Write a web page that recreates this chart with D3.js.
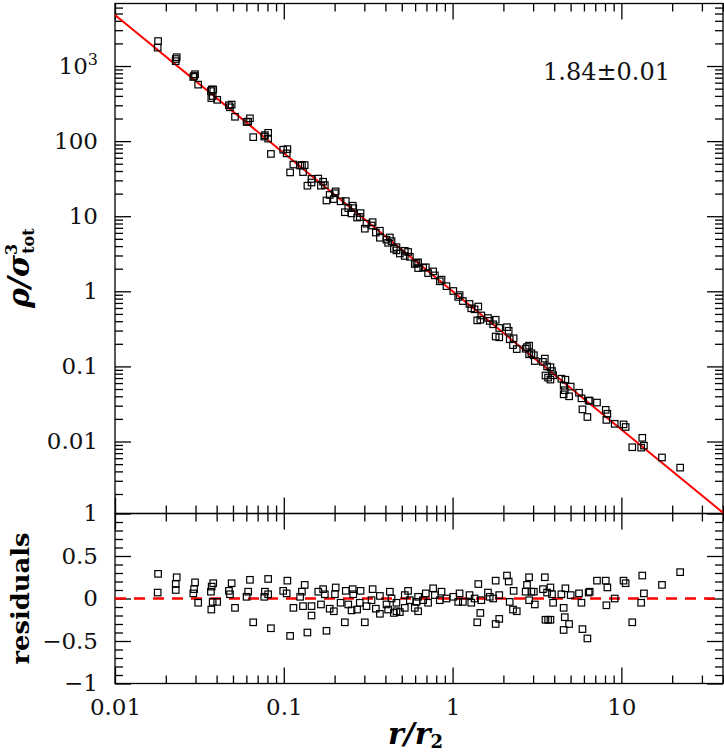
<!DOCTYPE html>
<html>
<head>
<meta charset="utf-8">
<script src="https://cdn.jsdelivr.net/npm/d3@7"></script>
<style>
  body { margin: 0; background: #fff; }
</style>
</head>
<body>
<script>
// radius in units of r_2
var rVals = [
  0.0180, 0.0179, 0.0232, 0.0229, 0.0229, 0.0298, 0.0294, 0.0291, 0.0311, 0.0382,
  0.0374, 0.0370, 0.0379, 0.0403, 0.0372, 0.0491, 0.0473, 0.0480, 0.0514, 0.0630,
  0.0615, 0.0602, 0.0659, 0.0808, 0.0773, 0.0808, 0.0766, 0.0839, 0.105, 0.0992,
  0.104, 0.114, 0.109, 0.133, 0.128, 0.125, 0.130, 0.146, 0.146, 0.138,
  0.160, 0.171, 0.175, 0.166, 0.187, 0.179, 0.203, 0.201, 0.217, 0.198,
  0.230, 0.233, 0.256, 0.258, 0.241, 0.252, 0.285, 0.282, 0.272, 0.302,
  0.336, 0.331, 0.309, 0.371, 0.351, 0.371, 0.406, 0.425, 0.415, 0.449,
  0.435, 0.465, 0.465, 0.487, 0.521, 0.545, 0.521, 0.558, 0.597, 0.625,
  0.625, 0.611, 0.669, 0.694, 0.767, 0.716, 0.785, 0.860, 0.840, 0.920,
  1.01, 1.10, 1.08, 1.15, 1.26, 1.29, 1.42, 1.35, 1.48, 1.46,
  1.40, 1.62, 1.66, 1.74, 1.89, 1.80, 1.89, 1.80, 2.10, 2.15,
  2.18, 2.30, 2.28, 2.40, 2.84, 2.76, 2.71, 2.93, 3.03, 2.84,
  3.07, 3.52, 3.43, 3.80, 3.63, 3.88, 3.94, 3.55, 3.68, 3.80,
  4.66, 4.41, 5.01, 4.55, 4.62, 4.90, 4.55, 5.61, 5.80, 6.40,
  6.49, 5.88, 6.29, 7.17, 8.08, 8.26, 9.13, 8.15, 10.3, 10.6,
  11.6, 13.3, 13.6, 13.1, 17.4, 22.3
];

// rho / sigma_tot^3
var rhoVals = [
  2150, 1760, 1310, 1240, 1160, 777, 737, 715, 565, 487,
  487, 464, 398, 355, 374, 307, 300, 282, 211, 201,
  182, 180, 113, 129, 120, 108, 115, 67.5, 78.2, 76.9,
  68.7, 48.8, 38.3, 47.9, 48.1, 47.3, 38.7, 31.4, 28.1, 25.5,
  31.7, 28.8, 26.0, 25.5, 19.2, 16.2, 21.4, 20.2, 15.8, 16.9,
  11.3, 15.9, 13.8, 12.8, 12.8, 10.9, 11.0, 9.79, 9.61, 6.82,
  8.33, 7.53, 7.96, 6.41, 6.06, 5.17, 4.87, 5.21, 4.42, 3.68,
  4.65, 3.87, 3.51, 3.19, 2.96, 3.34, 3.46, 2.88, 2.31, 2.04,
  2.43, 2.39, 2.06, 2.09, 1.84, 1.75, 1.63, 1.43, 1.36, 1.17,
  1.01, 0.890, 0.841, 0.742, 0.678, 0.594, 0.627, 0.576, 0.477, 0.418,
  0.410, 0.441, 0.403, 0.364, 0.325, 0.418, 0.244, 0.250, 0.333, 0.298,
  0.230, 0.237, 0.192, 0.170, 0.189, 0.181, 0.172, 0.150, 0.141, 0.145,
  0.118, 0.127, 0.115, 0.0976, 0.100, 0.0868, 0.0762, 0.0757, 0.0709, 0.0668,
  0.0665, 0.0686, 0.0539, 0.0553, 0.0482, 0.0400, 0.0425, 0.0446, 0.0376, 0.0352,
  0.0348, 0.0268, 0.0212, 0.0330, 0.0264, 0.0234, 0.0172, 0.0194, 0.0169, 0.0156,
  0.00839, 0.0112, 0.00881, 0.00829, 0.00613, 0.00449
];

// residuals of the power-law fit
var resVals = [
  0.29, 0.07, 0.25, 0.17, 0.10, 0.19, 0.11, 0.06, -0.05, 0.18,
  0.14, 0.08, -0.04, -0.04, -0.13, 0.18, 0.09, 0.05, -0.11, 0.22,
  0.08, 0.02, -0.28, 0.23, 0.08, 0.05, 0.02, -0.35, 0.21, 0.09,
  0.06, -0.11, -0.44, 0.16, 0.08, 0.02, -0.09, -0.09, -0.20, -0.40,
  0.08, 0.11, 0.05, -0.07, -0.12, -0.38, 0.13, 0.05, -0.05, -0.15,
  -0.28, 0.09, 0.11, 0.05, -0.07, -0.14, 0.09, -0.05, -0.13, -0.28,
  0.11, -0.02, -0.09, 0.03, -0.12, -0.18, -0.07, 0.08, -0.13, -0.17,
  0.00, -0.05, -0.15, -0.16, -0.11, 0.09, 0.04, -0.02, -0.11, -0.15,
  0.02, -0.04, -0.02, 0.06, 0.12, -0.05, 0.04, 0.08, -0.02, 0.00,
  0.02, 0.06, -0.04, -0.04, 0.04, -0.05, 0.17, 0.00, -0.02, -0.17,
  -0.28, 0.07, 0.02, 0.00, 0.04, 0.21, -0.24, -0.30, 0.27, 0.20,
  -0.04, 0.09, -0.13, -0.15, 0.25, 0.16, 0.08, 0.08, 0.08, -0.02,
  -0.07, 0.25, 0.11, 0.13, 0.07, 0.05, -0.05, -0.25, -0.25, -0.25,
  0.12, 0.05, 0.04, -0.11, -0.22, -0.30, -0.37, 0.06, -0.05, 0.07,
  0.08, -0.36, -0.47, 0.21, 0.21, 0.13, 0.00, -0.08, 0.21, 0.18,
  -0.28, 0.27, 0.06, -0.05, 0.16, 0.31
];

// fitted slope: rho ~ r^-slope
var slope = 1.84, slopeErr = 0.01;

var xTicks = [0.01, 0.1, 1, 10];
var yTopTicks = [0.01, 0.1, 1, 10, 100, 1000];
var yResTicks = [-1, -0.5, 0, 0.5, 1];

var W = 724, H = 754;
var plotL = 115, plotR = 723, plotT = 3.5, plotM = 513.5, plotB = 683.5;
var serif = "'DejaVu Serif', serif";

var svg = d3.select("body").append("svg")
  .attr("width", W)
  .attr("height", H);

var x = d3.scaleLog().domain([0.01, 40]).range([plotL, plotR]);
var yTop = d3.scaleLog().domain([0.0011, 6800]).range([plotM, plotT]);
var yRes = d3.scaleLinear().domain([-1, 1]).range([plotB, plotM]);

function isPow10(v) {
  var l = Math.log10(v);
  return Math.abs(l - Math.round(l)) < 1e-6;
}
var xMinor = x.ticks().filter(d => !isPow10(d));
var yTopMinor = yTop.ticks().filter(d => !isPow10(d));
var yResMinor = d3.range(-10, 11).map(d => d / 10).filter(d => Math.abs(d * 2 - Math.round(d * 2)) > 1e-6);

// draws one axis (major + minor), ticks pointing inward
function axisPair(fn, scale, major, minor, pos, fmt, pad) {
  var gMaj = svg.append("g")
    .attr("transform", pos)
    .call(fn(scale).tickValues(major).tickSize(-16).tickPadding(pad || 3)
      .tickFormat(fmt || (() => "")));
  var gMin = svg.append("g")
    .attr("transform", pos)
    .call(fn(scale).tickValues(minor).tickSize(-8).tickFormat(() => ""));
  [gMaj, gMin].forEach(g => {
    g.select(".domain").remove();
    g.selectAll("line").attr("stroke", "#000").attr("stroke-width", 1.3);
    g.selectAll("text")
      .attr("font-family", serif)
      .attr("font-size", 23)
      .attr("fill", "#111");
  });
  return gMaj;
}

// top panel axes
var gTopLeft = axisPair(d3.axisLeft, yTop, yTopTicks, yTopMinor, `translate(${plotL},0)`,
  d => d === 1000 ? "10" : String(d), 17);
gTopLeft.selectAll("text").filter(d => d === 1000)
  .append("tspan")
  .attr("font-size", 16)
  .attr("dy", "-0.55em")
  .text("3");
axisPair(d3.axisRight, yTop, yTopTicks, yTopMinor, `translate(${plotR},0)`);
axisPair(d3.axisTop, x, xTicks, xMinor, `translate(0,${plotT})`);
axisPair(d3.axisBottom, x, xTicks, xMinor, `translate(0,${plotM})`);

// residual panel axes
axisPair(d3.axisLeft, yRes, yResTicks, yResMinor, `translate(${plotL},0)`,
  d => d < 0 ? "\u2212" + Math.abs(d) : String(d), 17);
axisPair(d3.axisRight, yRes, yResTicks, yResMinor, `translate(${plotR},0)`);
axisPair(d3.axisTop, x, xTicks, xMinor, `translate(0,${plotM})`);
axisPair(d3.axisBottom, x, xTicks, xMinor, `translate(0,${plotB})`,
  d => String(d), 15);

// frames
[[plotT, plotM], [plotM, plotB]].forEach(p => {
  svg.append("rect")
    .attr("x", plotL)
    .attr("y", p[0])
    .attr("width", plotR - plotL)
    .attr("height", p[1] - p[0])
    .attr("fill", "none")
    .attr("stroke", "#000")
    .attr("stroke-width", 1.3);
});

svg.append("clipPath").attr("id", "clipTop")
  .append("rect")
  .attr("x", plotL).attr("y", plotT)
  .attr("width", plotR - plotL).attr("height", plotM - plotT);

// power-law fit
var fitR = x.domain();
svg.append("path")
  .attr("clip-path", "url(#clipTop)")
  .attr("d", d3.line().x(d => x(d)).y(d => yTop(Math.pow(d, -slope)))(fitR))
  .attr("fill", "none")
  .attr("stroke", "#f00")
  .attr("stroke-width", 2);

// zero line of residuals
svg.append("line")
  .attr("x1", x(0.01)).attr("x2", x(40))
  .attr("y1", yRes(0)).attr("y2", yRes(0))
  .attr("stroke", "#f00")
  .attr("stroke-width", 2.5)
  .attr("stroke-dasharray", "11,8");

var s = 6.5;
var pts = rVals.map((r, i) => ({ r: r, rho: rhoVals[i], res: resVals[i] }));

svg.append("g").selectAll("rect")
  .data(pts)
  .enter().append("rect")
  .attr("x", d => x(d.r) - s / 2)
  .attr("y", d => yTop(d.rho) - s / 2)
  .attr("width", s).attr("height", s)
  .attr("fill", "none")
  .attr("stroke", "#000")
  .attr("stroke-width", 1.2);

svg.append("g").selectAll("rect")
  .data(pts)
  .enter().append("rect")
  .attr("x", d => x(d.r) - s / 2)
  .attr("y", d => yRes(d.res) - s / 2)
  .attr("width", s).attr("height", s)
  .attr("fill", "none")
  .attr("stroke", "#000")
  .attr("stroke-width", 1.2);

// slope annotation
svg.append("text")
  .attr("x", 543)
  .attr("y", 80)
  .attr("font-family", serif)
  .attr("font-size", 24)
  .attr("fill", "#111")
  .text(slope.toFixed(2) + "\u00b1" + slopeErr.toFixed(2));

// y title (top)
var yt = svg.append("text")
  .attr("transform", "translate(29,308) rotate(-90)")
  .attr("font-family", serif)
  .attr("font-weight", "bold")
  .attr("font-style", "italic")
  .attr("font-size", 30)
  .attr("fill", "#000")
  .text("\u03c1/\u03c3");
yt.append("tspan").attr("font-size", 16).attr("font-style", "normal").attr("dy", -12).text("3");
yt.append("tspan").attr("font-size", 16).attr("font-style", "normal").attr("dx", -10).attr("dy", 17).text("tot");

// y title (residuals)
svg.append("text")
  .attr("transform", `translate(29,${yRes(0)}) rotate(-90)`)
  .attr("text-anchor", "middle")
  .attr("font-family", serif)
  .attr("font-weight", "bold")
  .attr("font-size", 25)
  .attr("textLength", 132)
  .attr("lengthAdjust", "spacingAndGlyphs")
  .attr("fill", "#000")
  .text("residuals");

// x title
var xt = svg.append("text")
  .attr("x", 388)
  .attr("y", 744)
  .attr("font-family", serif)
  .attr("font-weight", "bold")
  .attr("font-style", "italic")
  .attr("font-size", 30)
  .attr("fill", "#000")
  .text("r/r");
xt.append("tspan").attr("font-size", 18).attr("font-style", "normal").attr("dy", 4).text("2");
</script>
</body>
</html>
